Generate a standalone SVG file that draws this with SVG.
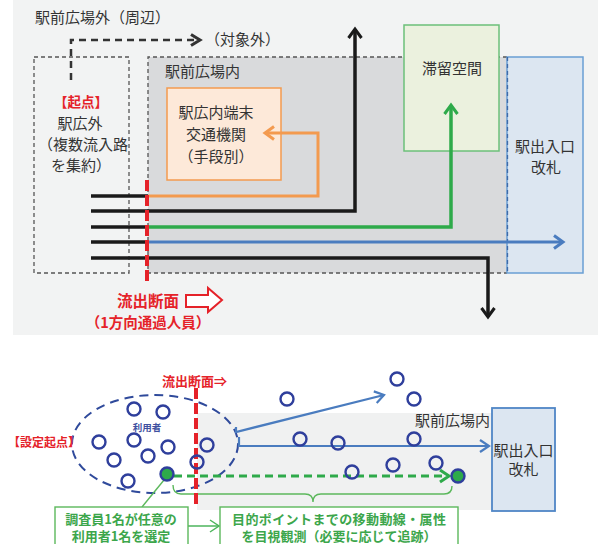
<svg xmlns="http://www.w3.org/2000/svg" width="598" height="544" viewBox="0 0 598 544">
<defs>
<style>
text{font-family:"Noto Sans CJK JP","Noto Sans",sans-serif;}
.t{fill:#333;font-size:15px;}
.red{fill:#e52229;font-weight:bold;}
.grn{fill:#3ca64b;font-weight:bold;font-size:13px;}
.dash{fill:none;stroke:#555;stroke-width:1.3;stroke-dasharray:4 3;}
.circ{fill:none;stroke:#2f3f9c;stroke-width:2.4;}
.gcirc{fill:#2eaa4a;stroke:#2f3f9c;stroke-width:2.4;}
</style>
<marker id="ak" viewBox="0 0 12 16" refX="10" refY="8" markerWidth="12" markerHeight="16" markerUnits="userSpaceOnUse" orient="auto" overflow="visible"><path d="M1,1.5 L10,8 L1,14.5" fill="none" stroke="#1a1a1a" stroke-width="3"/></marker>
<marker id="ao" viewBox="0 0 12 16" refX="10" refY="8" markerWidth="12" markerHeight="16" markerUnits="userSpaceOnUse" orient="auto" overflow="visible"><path d="M1,1.5 L10,8 L1,14.5" fill="none" stroke="#f39a4f" stroke-width="3"/></marker>
<marker id="ag" viewBox="0 0 12 16" refX="10" refY="8" markerWidth="12" markerHeight="16" markerUnits="userSpaceOnUse" orient="auto" overflow="visible"><path d="M1,1.5 L10,8 L1,14.5" fill="none" stroke="#2eaa4a" stroke-width="3"/></marker>
<marker id="ab" viewBox="0 0 12 16" refX="10" refY="8" markerWidth="12" markerHeight="16" markerUnits="userSpaceOnUse" orient="auto" overflow="visible"><path d="M1,1.5 L10,8 L1,14.5" fill="none" stroke="#4a7cbf" stroke-width="3"/></marker>
<marker id="ad" viewBox="0 0 12 14" refX="10" refY="7" markerWidth="12" markerHeight="14" markerUnits="userSpaceOnUse" orient="auto" overflow="visible"><path d="M1,1.5 L10,7 L1,12.5" fill="none" stroke="#333" stroke-width="3"/></marker>
<marker id="abt" viewBox="0 0 12 14" refX="10" refY="7" markerWidth="12" markerHeight="14" markerUnits="userSpaceOnUse" orient="auto" overflow="visible"><path d="M1,1 L10,7 L1,13" fill="none" stroke="#4a7cbf" stroke-width="2.2"/></marker>
<marker id="agd" viewBox="0 0 12 14" refX="10" refY="7" markerWidth="12" markerHeight="14" markerUnits="userSpaceOnUse" orient="auto" overflow="visible"><path d="M1,1 L10,7 L1,13" fill="none" stroke="#2eaa4a" stroke-width="3"/></marker>
<marker id="agt" viewBox="0 0 12 14" refX="10" refY="7" markerWidth="12" markerHeight="14" markerUnits="userSpaceOnUse" orient="auto" overflow="visible"><path d="M1,1 L10,7 L1,13" fill="none" stroke="#4db55c" stroke-width="1.5"/></marker>
</defs>

<!-- top panel background -->
<rect x="13" y="0" width="585" height="335" fill="#f2f3f3"/>
<text id="title" class="t" x="35" y="23" font-size="15">駅前広場外（周辺）</text>

<g id="plaza-in">
<rect x="148" y="57" width="359" height="216" fill="#d9dadc"/>
<path d="M507,57 H148 V273 H507" class="dash"/>
<text class="t" x="165" y="77" font-size="15.5">駅前広場内</text>
</g>

<g id="outside-start">
<rect x="34" y="57" width="95" height="216" class="dash"/>
<text class="red" x="81" y="107" font-size="13.5" text-anchor="middle">【起点】</text>
<text class="t" x="80" y="129" font-size="14.5" text-anchor="middle">駅広外</text>
<text class="t" x="83" y="150" font-size="14.5" text-anchor="middle">（複数流入路</text>
<text class="t" x="81" y="171" font-size="14.5" text-anchor="middle">を集約）</text>
</g>

<g id="terminal">
<rect x="167" y="88" width="114" height="92" fill="#fde9d9" stroke="#f39a4f" stroke-width="1.5"/>
<text class="t" x="216" y="118" font-size="15.5" text-anchor="middle">駅広内端末</text>
<text class="t" x="216" y="139.5" font-size="15.5" text-anchor="middle">交通機関</text>
<text class="t" x="216" y="161.5" font-size="15.5" text-anchor="middle">（手段別）</text>
</g>

<g id="stay">
<rect x="404" y="25" width="95" height="126" fill="#ebf1de" stroke="#6cc07a" stroke-width="1.5"/>
<text class="t" x="452" y="74" font-size="16" text-anchor="middle">滞留空間</text>
</g>

<g id="gate-top">
<rect x="507" y="57" width="76" height="216" fill="#dce6f1" stroke="#6a9fd4" stroke-width="1.5"/>
<line x1="507.5" y1="57" x2="507.5" y2="273" stroke="#3e6aa8" stroke-width="1.3" stroke-dasharray="4 3"/>
<text class="t" x="545" y="152" font-size="16" text-anchor="middle">駅出入口</text>
<text class="t" x="546" y="173" font-size="16" text-anchor="middle">改札</text>
</g>

<g id="connectors-top" fill="none">
<path d="M71,80 V40 H200" stroke="#333" stroke-width="2.5" stroke-dasharray="7 5" marker-end="url(#ad)"/>
<line x1="91" y1="196" x2="148" y2="196" stroke="#1a1a1a" stroke-width="3.5"/>
<line x1="91" y1="211" x2="148" y2="211" stroke="#1a1a1a" stroke-width="3.5"/>
<line x1="91" y1="227" x2="148" y2="227" stroke="#1a1a1a" stroke-width="3.5"/>
<line x1="91" y1="242" x2="148" y2="242" stroke="#1a1a1a" stroke-width="3.5"/>
<line x1="91" y1="258" x2="148" y2="258" stroke="#1a1a1a" stroke-width="3.5"/>
<path d="M148,196 H318 V133 H265" stroke="#f39a4f" stroke-width="3" marker-end="url(#ao)"/>
<path d="M148,211 H355 V29" stroke="#1a1a1a" stroke-width="3.5" marker-end="url(#ak)"/>
<path d="M148,227 H451 V105" stroke="#2eaa4a" stroke-width="3.5" marker-end="url(#ag)"/>
<path d="M148,242 H563" stroke="#4a7cbf" stroke-width="3" marker-end="url(#ab)"/>
<path d="M148,258 H488 V317" stroke="#1a1a1a" stroke-width="3.5" marker-end="url(#ak)"/>
<line x1="147" y1="180" x2="147" y2="283" stroke="#e52229" stroke-width="4" stroke-dasharray="11 4"/>
</g>

<text class="t" x="205" y="45" font-size="10">（対象外）</text>

<g id="section-top">
<text class="red" x="117" y="307" font-size="15.5">流出断面</text>
<polygon points="186,295 208,295 208,288 222,300 208,312 208,307 186,307" fill="#fff" stroke="#e52229" stroke-width="2"/>
<text class="red" x="148" y="328" font-size="14.5" text-anchor="middle">（1方向通過人員）</text>
</g>

<!-- bottom panel -->
<g id="plaza-in-bottom">
<rect x="197" y="413" width="300" height="97" fill="#f0f1f1"/>
<text class="t" x="415" y="426" font-size="13.5">駅前広場内</text>
</g>

<g id="gate-bottom">
<rect x="492" y="408" width="63" height="103" fill="#dce6f1" stroke="#4f86c6" stroke-width="1.8"/>
<text class="t" x="523.5" y="456" font-size="12.5" text-anchor="middle">駅出入口</text>
<text class="t" x="523.5" y="475" font-size="12.5" text-anchor="middle">改札</text>
</g>

<g id="users">
<ellipse cx="155" cy="444" rx="83" ry="49" fill="none" stroke="#2f4a9b" stroke-width="2" stroke-dasharray="9 6"/>
<text x="147" y="431" font-size="9.5" fill="#3f51a0" text-anchor="middle" font-weight="bold">利用者</text>
<text class="red" x="8" y="447" font-size="12">【設定起点】</text>
</g>

<g id="connectors-bottom" fill="none">
<path d="M236,427 V432 L384,395" stroke="#4a7cbf" stroke-width="2.2" marker-end="url(#abt)"/>
<path d="M239,437 V446 H489" stroke="#4a7cbf" stroke-width="2.2" marker-end="url(#abt)"/>
<line x1="174" y1="476" x2="449" y2="476" stroke="#2eaa4a" stroke-width="3" stroke-dasharray="8 5" marker-end="url(#agd)"/>
<path d="M173,485 Q173,494 181,494 H305 Q313,494 313,502 Q313,494 321,494 H444 Q452,494 452,486" stroke="#5cb85c" stroke-width="1.4"/>
<line x1="164" y1="480" x2="142" y2="507" stroke="#5cb85c" stroke-width="1.4"/>
<line x1="188" y1="526" x2="219" y2="526" stroke="#4db55c" stroke-width="1.5" marker-end="url(#agt)"/>
<line x1="196" y1="388" x2="196" y2="504" stroke="#e52229" stroke-width="4" stroke-dasharray="11 4"/>
</g>

<g id="people">
<circle class="circ" cx="134" cy="409" r="6.5"/>
<circle class="circ" cx="163" cy="412" r="6.5"/>
<circle class="circ" cx="99" cy="442" r="6.5"/>
<circle class="circ" cx="134" cy="440" r="6.5"/>
<circle class="circ" cx="168" cy="447" r="6.5"/>
<circle class="circ" cx="114" cy="460" r="6.5"/>
<circle class="circ" cx="148" cy="456" r="6.5"/>
<circle class="circ" cx="207" cy="445" r="6.5"/>
<circle class="circ" cx="197" cy="462" r="6.5"/>
<circle class="circ" cx="128" cy="481" r="6.5"/>
<circle class="circ" cx="287" cy="399" r="6.5"/>
<circle class="circ" cx="300" cy="439" r="6.5"/>
<circle class="circ" cx="338" cy="443" r="6.5"/>
<circle class="circ" cx="352" cy="472" r="6.5"/>
<circle class="circ" cx="393" cy="465" r="6.5"/>
<circle class="circ" cx="397" cy="379" r="6.5"/>
<circle class="circ" cx="414" cy="399" r="6.5"/>
<circle class="circ" cx="414" cy="439" r="6.5"/>
<circle class="circ" cx="436" cy="463" r="6.5"/>
<circle class="gcirc" cx="167" cy="474" r="6.5"/>
<circle class="gcirc" cx="458" cy="476" r="6.5"/>
</g>

<text class="red" x="162" y="386" font-size="13">流出断面⇒</text>

<g id="select-box">
<rect x="55" y="507" width="133" height="45" fill="#fff" stroke="#5cb85c" stroke-width="1.4"/>
<text class="grn" x="121" y="523.5" text-anchor="middle">調査員1名が任意の</text>
<text class="grn" x="121" y="541" text-anchor="middle">利用者1名を選定</text>
</g>

<g id="observe-box">
<rect x="220" y="507" width="238" height="45" fill="#fff" stroke="#5cb85c" stroke-width="1.4"/>
<text class="grn" x="339" y="523.5" text-anchor="middle" textLength="214">目的ポイントまでの移動動線・属性</text>
<text class="grn" x="339" y="541" text-anchor="middle">を目視観測（必要に応じて追跡）</text>
</g>
</svg>
